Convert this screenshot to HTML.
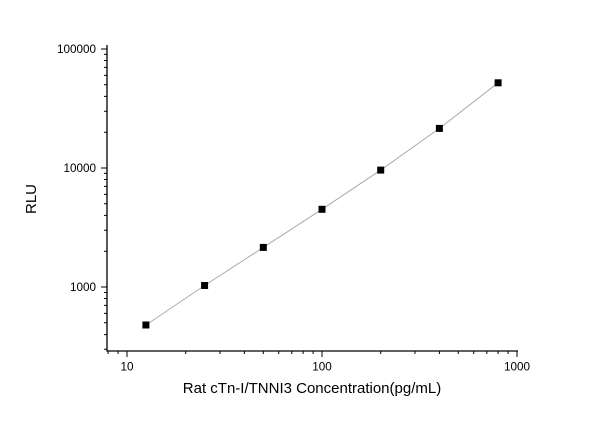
<!DOCTYPE html><html><head><style>body{margin:0;background:#fff}</style></head><body>
<svg width="600" height="421" xmlns="http://www.w3.org/2000/svg" font-family="Liberation Sans, sans-serif">
<g stroke="#000" stroke-width="1">
<line x1="107" y1="45" x2="107" y2="351.5" stroke-width="1.3"/>
<line x1="106.5" y1="351" x2="518" y2="351" stroke-width="1.3"/>
<line x1="101" y1="49" x2="107" y2="49"/><line x1="101" y1="168" x2="107" y2="168"/><line x1="101" y1="287" x2="107" y2="287"/>
<path d="M104 349.2H107M104 334.6H107M104 322.8H107M104 313.4H107M104 305.4H107M104 298.5H107M104 292.5H107
M104 251.2H107M104 230.2H107M104 215.4H107M104 203.8H107M104 194.4H107M104 186.4H107M104 179.5H107M104 173.4H107
M104 132.2H107M104 111.2H107M104 96.4H107M104 84.8H107M104 75.4H107M104 67.4H107M104 60.5H107M104 54.4H107" fill="none"/>
<line x1="127" y1="351" x2="127" y2="357"/><line x1="322" y1="351" x2="322" y2="357"/><line x1="517" y1="351" x2="517" y2="357"/>
<path d="M108.1 351V354M118.1 351V354M185.7 351V354M220 351V354M244.4 351V354M263.3 351V354M278.7 351V354M291.8 351V354M303.1 351V354M313.1 351V354
M380.7 351V354M415 351V354M439.4 351V354M458.3 351V354M473.7 351V354M486.8 351V354M498.1 351V354M508.1 351V354" fill="none"/>
</g>
<g font-size="11.7" text-anchor="end">
<text x="96" y="53.2">100000</text><text x="96" y="172.2">10000</text><text x="96" y="291.2">1000</text>
</g>
<g font-size="11.7" text-anchor="middle">
<text x="127" y="370.5">10</text><text x="322" y="370.5">100</text><text x="517" y="370.5">1000</text>
</g>
<polyline fill="none" stroke="#aaa" stroke-width="1" points="145.9,325 204.6,285.5 263.3,247.4 322,209.3 380.7,170.1 439.4,128.4 498.1,82.8"/>
<g fill="#000">
<rect x="142.4" y="321.5" width="7" height="7"/><rect x="201.1" y="282" width="7" height="7"/><rect x="259.8" y="243.9" width="7" height="7"/><rect x="318.5" y="205.8" width="7" height="7"/><rect x="377.2" y="166.6" width="7" height="7"/><rect x="435.9" y="124.9" width="7" height="7"/><rect x="494.6" y="79.3" width="7" height="7"/>
</g>
<text x="312" y="393" font-size="15" text-anchor="middle">Rat cTn-I/TNNI3 Concentration(pg/mL)</text>
<text transform="translate(36,199) rotate(-90)" font-size="15" text-anchor="middle">RLU</text>
</svg></body></html>
